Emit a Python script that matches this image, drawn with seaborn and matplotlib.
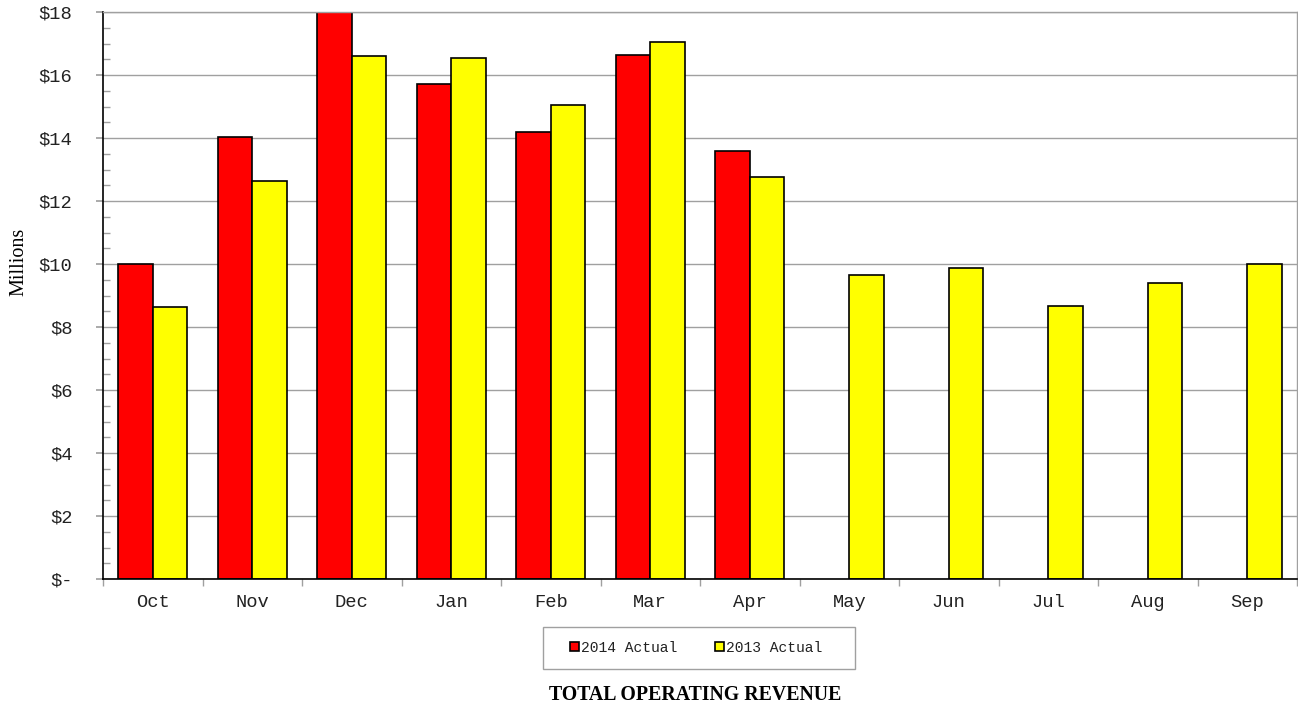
import numpy as np
import pandas as pd
import matplotlib
matplotlib.use("Agg")
import matplotlib.pyplot as plt
import matplotlib.patches as mpatches
import seaborn as sns
from matplotlib.ticker import MultipleLocator, FixedLocator, FuncFormatter

months = ["Oct", "Nov", "Dec", "Jan", "Feb", "Mar", "Apr", "May", "Jun", "Jul", "Aug", "Sep"]
actual_2014 = [10.0, 14.03, 18.4, 15.71, 14.19, 16.63, 13.59, np.nan, np.nan, np.nan, np.nan, np.nan]
actual_2013 = [8.62, 12.63, 16.6, 16.54, 15.05, 17.05, 12.76, 9.65, 9.87, 8.67, 9.4, 10.0]
series_names = ["2014 Actual", "2013 Actual"]
series_colors = ["#FF0000", "#FFFF00"]
y_ticks = [0, 2, 4, 6, 8, 10, 12, 14, 16, 18]

df = pd.DataFrame({
    "Month": months * 2,
    "Value": actual_2014 + actual_2013,
    "Series": [series_names[0]] * len(months) + [series_names[1]] * len(months),
})

sns.set_theme(style="white")
plt.rcParams["font.family"] = ["Liberation Mono", "DejaVu Sans"]

W, H = 1298, 707
fig = plt.figure(figsize=(W / 100, H / 100), dpi=100)
ax = fig.add_axes([103 / W, 1 - 579 / H, 1194 / W, 567 / H])

sns.barplot(data=df, x="Month", y="Value", hue="Series", order=months,
            hue_order=series_names, palette=series_colors, width=0.69,
            edgecolor="black", linewidth=1.2, saturation=1, ax=ax, errorbar=None)

ax.set_ylim(0, 18)
ax.set_xlim(-0.5, len(months) - 0.5)
ax.set_yticks(y_ticks)
ax.yaxis.set_major_formatter(FuncFormatter(lambda v, p: "$-" if v == 0 else f"${v:.0f}"))
ax.yaxis.set_minor_locator(MultipleLocator(0.5))
ax.xaxis.set_minor_locator(FixedLocator(np.arange(-0.5, len(months), 1.0)))

ax.set_axisbelow(True)
ax.yaxis.grid(True, color="#A0A0A0", linewidth=1.0)
ax.xaxis.grid(False)

for s in ["left", "bottom"]:
    ax.spines[s].set_color("black")
    ax.spines[s].set_linewidth(1.2)
for s in ["top", "right"]:
    ax.spines[s].set_color("#A0A0A0")
    ax.spines[s].set_linewidth(1.0)

ax.tick_params(axis="y", which="major", direction="out", length=5, color="#A0A0A0",
               labelsize=13.5, labelcolor="#222222", pad=17, left=True)
ax.tick_params(axis="y", which="minor", direction="in", length=5, color="#A0A0A0", left=True)
ax.tick_params(axis="x", which="major", length=0, labelsize=13.5, labelcolor="#222222", pad=11)
ax.tick_params(axis="x", which="minor", direction="out", length=5, color="#A0A0A0", bottom=True)

ax.set_xlabel("")
ax.set_ylabel("")
fig.text(19 / W, 1 - 262 / H, "Millions", rotation=90, ha="center", va="center",
         family="Liberation Serif", fontsize=14.5, color="black")

handles, labels = ax.get_legend_handles_labels()
leg = ax.legend(handles, labels, loc="center", bbox_to_anchor=(696 / W, 1 - 648 / H),
                bbox_transform=fig.transFigure, ncol=2, frameon=False,
                prop={"family": "Liberation Mono", "size": 10.5},
                handlelength=0.6, handleheight=0.6, handletextpad=0.15, columnspacing=2.6,
                borderpad=0.3, borderaxespad=0)
for t in leg.get_texts():
    t.set_color("#222222")

fig.patches.append(mpatches.Rectangle((543 / W, 1 - 669 / H), 312 / W, 42 / H,
                                      transform=fig.transFigure, fill=False,
                                      edgecolor="#A0A0A0", linewidth=1.0))

fig.text(695 / W, 1 - 695 / H, "TOTAL OPERATING REVENUE", ha="center", va="center",
         family="Liberation Serif", fontweight="bold", fontsize=14.3, color="black")

fig.savefig("out.png", dpi=100, facecolor="white")
